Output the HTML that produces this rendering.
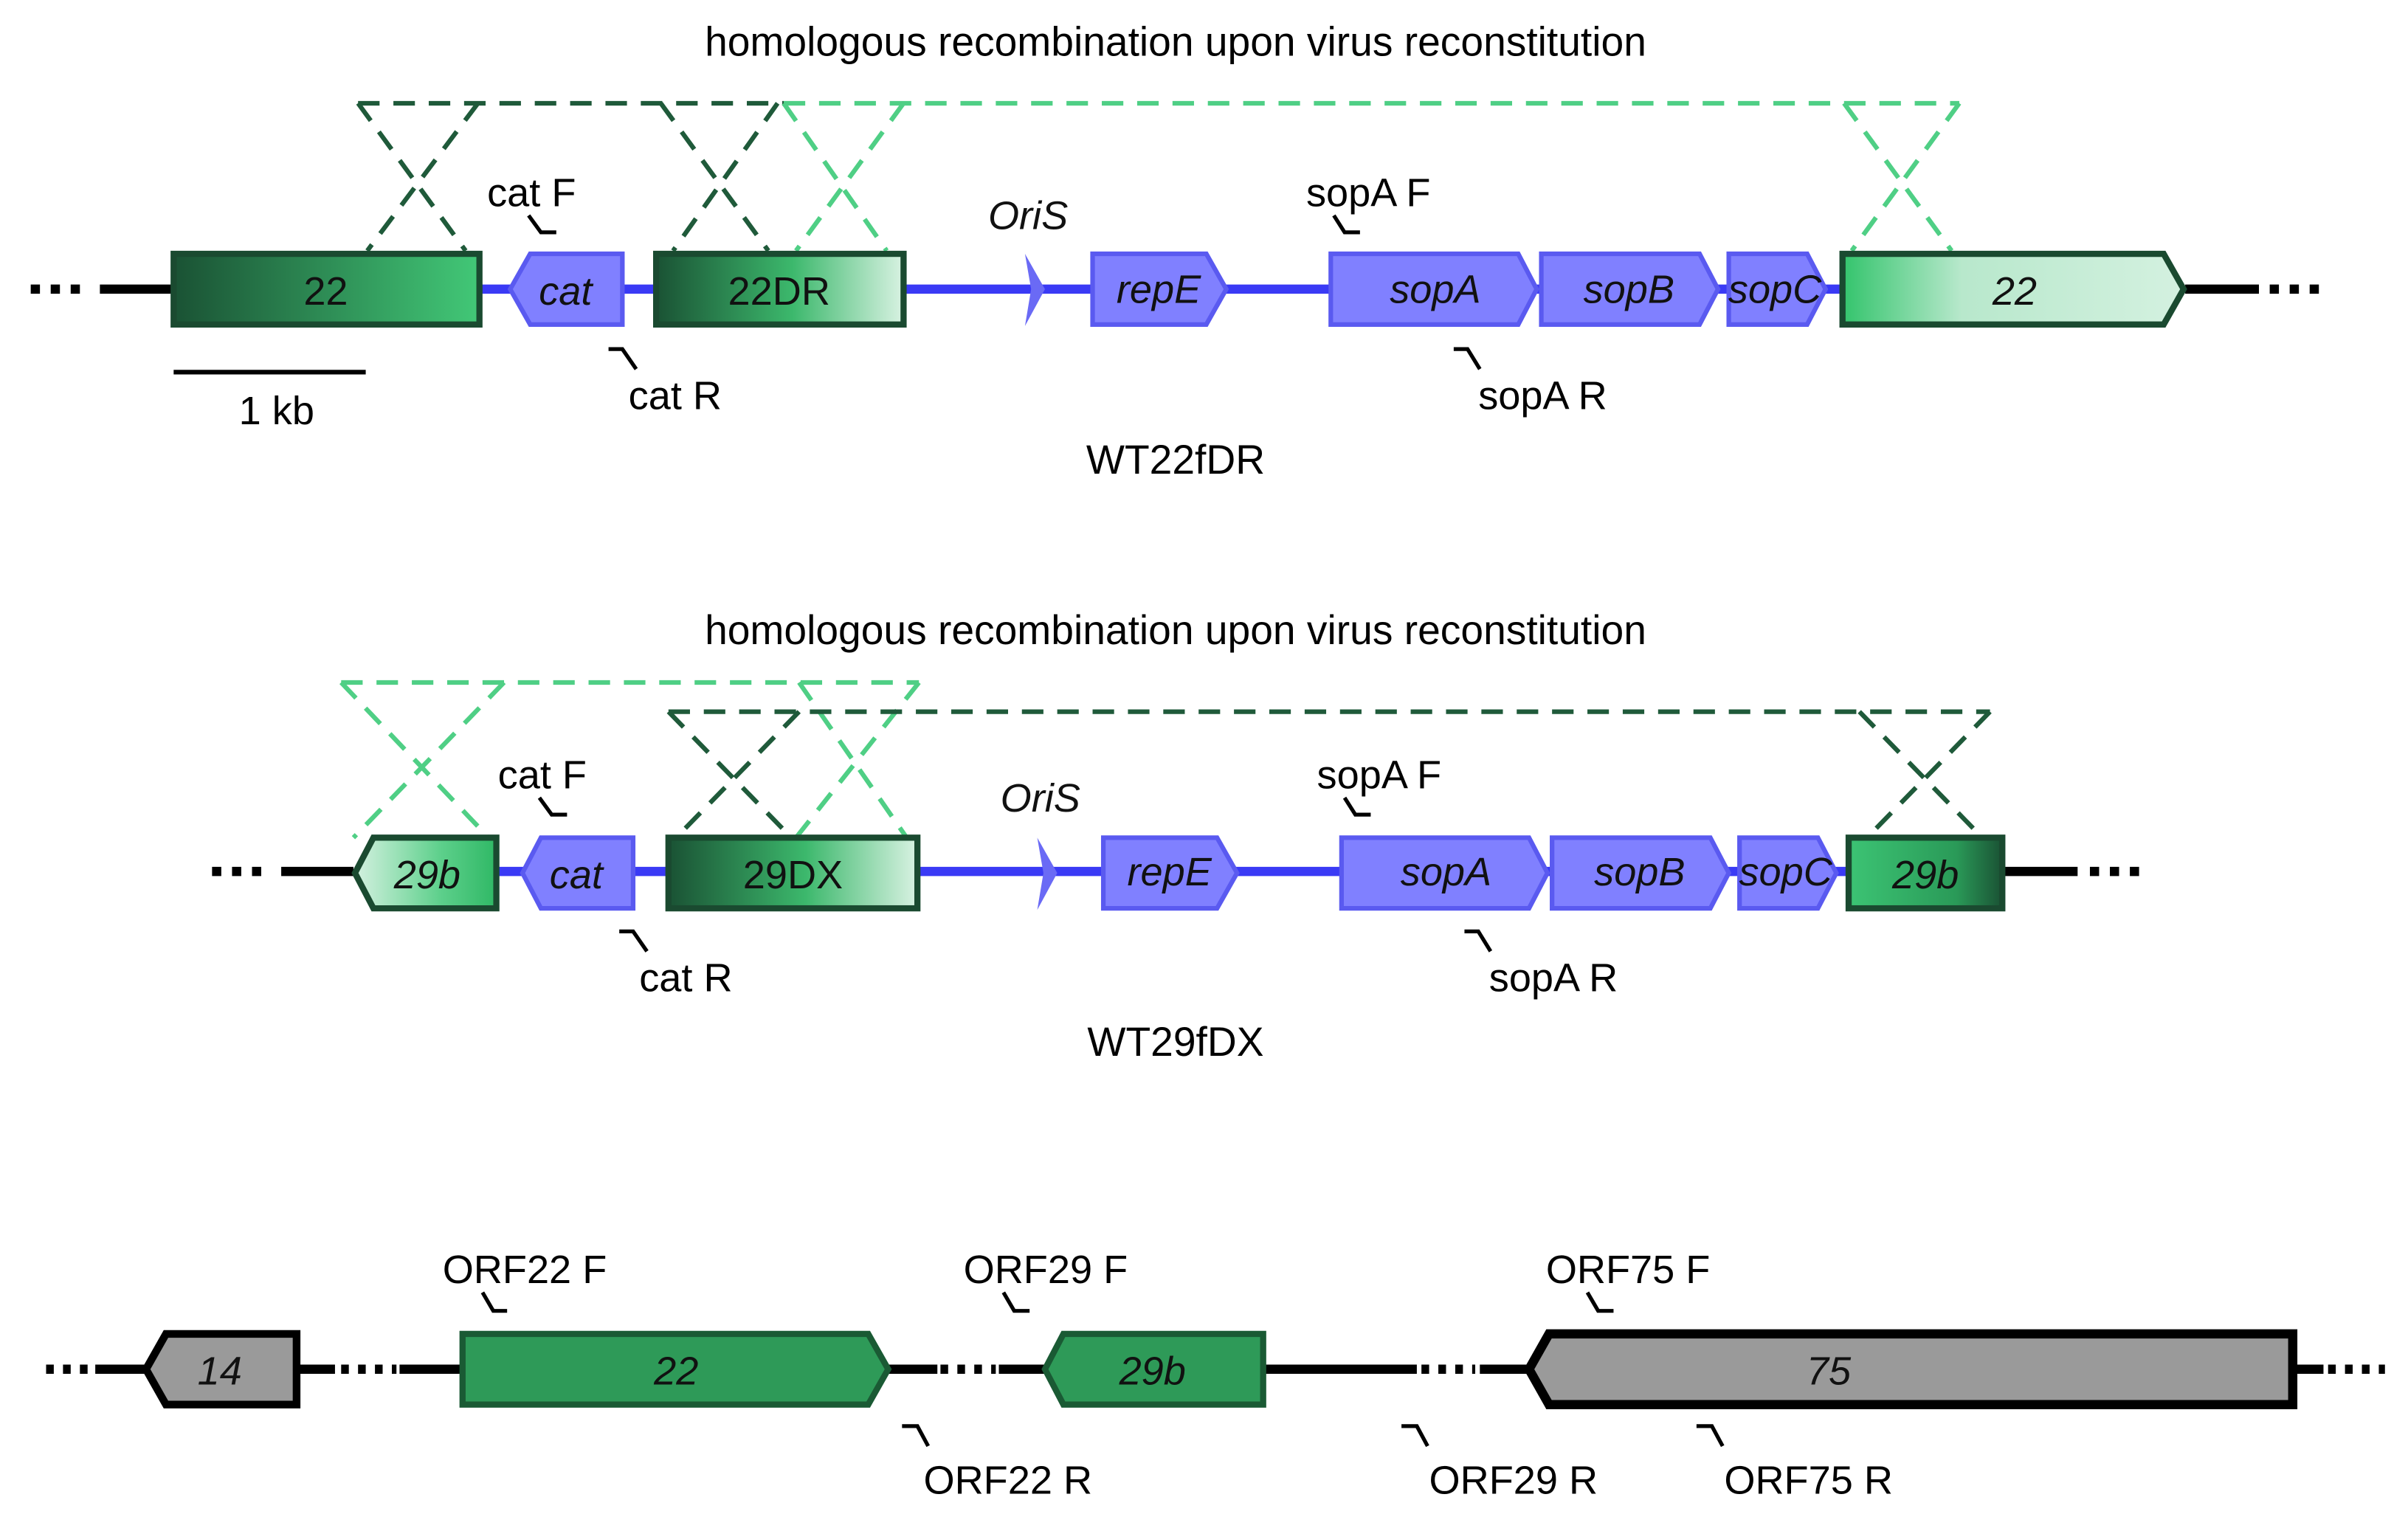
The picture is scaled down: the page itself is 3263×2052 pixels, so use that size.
<!DOCTYPE html>
<html><head><meta charset="utf-8"><style>
html,body{margin:0;padding:0;background:#fff;}
svg{display:block;}
text{font-family:"Liberation Sans",sans-serif;}
</style></head><body>
<svg width="3263" height="2052" viewBox="0 0 1567 985" xmlns="http://www.w3.org/2000/svg">
<defs>
<linearGradient id="g1" x1="0" x2="1" y1="0" y2="0"><stop offset="0" stop-color="#1a5234"/><stop offset="1" stop-color="#42c877"/></linearGradient>
<linearGradient id="g2" x1="0" x2="1" y1="0" y2="0"><stop offset="0" stop-color="#1a5234"/><stop offset="0.55" stop-color="#3cb86c"/><stop offset="1" stop-color="#d8f2e2"/></linearGradient>
<linearGradient id="g3" x1="0" x2="1" y1="0" y2="0"><stop offset="0" stop-color="#33c46c"/><stop offset="0.35" stop-color="#b8e8cc"/><stop offset="1" stop-color="#d4f1e0"/></linearGradient>
<linearGradient id="g4" x1="0" x2="1" y1="0" y2="0"><stop offset="0" stop-color="#d4f1e0"/><stop offset="0.6" stop-color="#5ed08c"/><stop offset="1" stop-color="#2fb865"/></linearGradient>
<linearGradient id="g5" x1="0" x2="1" y1="0" y2="0"><stop offset="0" stop-color="#3cc474"/><stop offset="0.7" stop-color="#2a9a58"/><stop offset="1" stop-color="#1a5234"/></linearGradient>
</defs>
<g font-size="26.5" fill="#000">
<text x="765" y="36" text-anchor="middle">homologous recombination upon virus reconstitution</text>
<text x="765" y="419" text-anchor="middle">homologous recombination upon virus reconstitution</text>
<text x="765" y="308" text-anchor="middle">WT22fDR</text>
<text x="765" y="687" text-anchor="middle">WT29fDX</text>
</g>

<!-- ROW 1 -->
<g stroke-width="3" fill="none" stroke-dasharray="14,9">
<path d="M233 67 H510 M233 67 L303 163 M311 67 L239 163 M430 67 L500 163 M506 67 L438 163" stroke="#1f5a3a"/>
<path d="M510 67 H1275 M510 67 L577 163 M588 67 L518 163 M1200 67 L1270 163 M1275 67 L1205 163" stroke="#4fcf85"/>
</g>
<line x1="20" y1="188" x2="58" y2="188" stroke="#000" stroke-width="6" stroke-dasharray="6,7"/>
<line x1="65" y1="188" x2="113" y2="188" stroke="#000" stroke-width="6"/>
<line x1="312" y1="188" x2="1198" y2="188" stroke="#3a3af5" stroke-width="6"/>
<line x1="1422" y1="188" x2="1470" y2="188" stroke="#000" stroke-width="6"/>
<line x1="1477" y1="188" x2="1515" y2="188" stroke="#000" stroke-width="6" stroke-dasharray="6,7"/>
<rect x="113" y="165" width="199" height="46" fill="url(#g1)" stroke="#1a4a30" stroke-width="4"/>
<polygon points="332,188 345,165 405,165 405,211 345,211" fill="#8080ff" stroke="#5a5af0" stroke-width="3"/>
<rect x="427" y="165" width="161" height="46" fill="url(#g2)" stroke="#1a4a30" stroke-width="4"/>
<polygon points="667,165 680,188 667,212 671,188" fill="#6a6af5"/>
<polygon points="711,165 785,165 798,188 785,211 711,211" fill="#8080ff" stroke="#5a5af0" stroke-width="3"/>
<polygon points="866,165 988,165 1000,188 988,211 866,211" fill="#8080ff" stroke="#5a5af0" stroke-width="3"/>
<polygon points="1003,165 1106,165 1118,188 1106,211 1003,211" fill="#8080ff" stroke="#5a5af0" stroke-width="3"/>
<polygon points="1125,165 1176,165 1188,188 1176,211 1125,211" fill="#8080ff" stroke="#5a5af0" stroke-width="3"/>
<polygon points="1199,165 1408,165 1421,188 1408,211 1199,211" fill="url(#g3)" stroke="#1a4a30" stroke-width="4"/>
<g font-size="26" font-style="italic" text-anchor="middle" fill="#111">
<text x="212" y="198" font-style="normal">22</text>
<text x="368" y="198">cat</text>
<text x="507" y="198" font-style="normal">22DR</text>
<text x="754" y="197">repE</text>
<text x="934" y="197">sopA</text>
<text x="1060" y="197">sopB</text>
<text x="1155" y="197">sopC</text>
<text x="1311" y="198">22</text>
<text x="669" y="149">OriS</text>
</g>
<line x1="113" y1="242" x2="238" y2="242" stroke="#000" stroke-width="3"/>
<text x="180" y="276" font-size="26" text-anchor="middle">1 kb</text>
<g font-size="26">
<text x="317" y="134">cat F</text>
<text x="409" y="266">cat R</text>
<text x="850" y="134">sopA F</text>
<text x="962" y="266">sopA R</text>
</g>
<g stroke="#000" stroke-width="2.5" fill="none">
<path d="M344 140 L352 151 H362"/>
<path d="M396 227 H405 L414 240"/>
<path d="M868 140 L875 151 H885"/>
<path d="M946 227 H955 L963 240"/>
</g>

<!-- ROW 2 -->
<g stroke-width="3" fill="none" stroke-dasharray="14,9">
<path d="M222 444 H598 M222 444 L318 545 M328 444 L230 545 M520 444 L590 545 M598 444 L518 545" stroke="#4fcf85"/>
<path d="M435 463 H1295 M435 463 L515 545 M520 463 L440 545 M1210 463 L1290 545 M1295 463 L1215 545" stroke="#1f5a3a"/>
</g>
<line x1="138" y1="567" x2="176" y2="567" stroke="#000" stroke-width="6" stroke-dasharray="6,7"/>
<line x1="183" y1="567" x2="230" y2="567" stroke="#000" stroke-width="6"/>
<line x1="323" y1="567" x2="1203" y2="567" stroke="#3a3af5" stroke-width="6"/>
<line x1="1303" y1="567" x2="1352" y2="567" stroke="#000" stroke-width="6"/>
<line x1="1360" y1="567" x2="1398" y2="567" stroke="#000" stroke-width="6" stroke-dasharray="6,7"/>
<polygon points="231,568 243,545 323,545 323,591 243,591" fill="url(#g4)" stroke="#1a4a30" stroke-width="4"/>
<polygon points="340,568 352,545 412,545 412,591 352,591" fill="#8080ff" stroke="#5a5af0" stroke-width="3"/>
<rect x="435" y="545" width="162" height="46" fill="url(#g2)" stroke="#1a4a30" stroke-width="4"/>
<polygon points="675,545 688,568 675,592 679,568" fill="#6a6af5"/>
<polygon points="718,545 792,545 805,568 792,591 718,591" fill="#8080ff" stroke="#5a5af0" stroke-width="3"/>
<polygon points="873,545 995,545 1007,568 995,591 873,591" fill="#8080ff" stroke="#5a5af0" stroke-width="3"/>
<polygon points="1010,545 1113,545 1125,568 1113,591 1010,591" fill="#8080ff" stroke="#5a5af0" stroke-width="3"/>
<polygon points="1132,545 1183,545 1195,568 1183,591 1132,591" fill="#8080ff" stroke="#5a5af0" stroke-width="3"/>
<rect x="1203" y="545" width="100" height="46" fill="url(#g5)" stroke="#1a4a30" stroke-width="4"/>
<g font-size="26" font-style="italic" text-anchor="middle" fill="#111">
<text x="278" y="578">29b</text>
<text x="375" y="578">cat</text>
<text x="516" y="578" font-style="normal">29DX</text>
<text x="761" y="576">repE</text>
<text x="941" y="576">sopA</text>
<text x="1067" y="576">sopB</text>
<text x="1162" y="576">sopC</text>
<text x="1253" y="578">29b</text>
<text x="677" y="528">OriS</text>
</g>
<g font-size="26">
<text x="324" y="513">cat F</text>
<text x="416" y="645">cat R</text>
<text x="857" y="513">sopA F</text>
<text x="969" y="645">sopA R</text>
</g>
<g stroke="#000" stroke-width="2.5" fill="none">
<path d="M351 519 L359 530 H369"/>
<path d="M403 606 H412 L421 619"/>
<path d="M875 519 L882 530 H892"/>
<path d="M953 606 H962 L970 619"/>
</g>

<!-- ROW 3 -->
<g stroke="#000" stroke-width="6">
<line x1="30" y1="891" x2="62" y2="891" stroke-dasharray="5,6"/>
<line x1="62" y1="891" x2="95" y2="891"/>
<line x1="193" y1="891" x2="218" y2="891"/>
<line x1="222" y1="891" x2="258" y2="891" stroke-dasharray="5,6"/>
<line x1="260" y1="891" x2="300" y2="891"/>
<line x1="578" y1="891" x2="610" y2="891"/>
<line x1="612" y1="891" x2="648" y2="891" stroke-dasharray="5,6"/>
<line x1="650" y1="891" x2="680" y2="891"/>
<line x1="822" y1="891" x2="922" y2="891"/>
<line x1="925" y1="891" x2="960" y2="891" stroke-dasharray="5,6"/>
<line x1="963" y1="891" x2="995" y2="891"/>
<line x1="1492" y1="891" x2="1512" y2="891"/>
<line x1="1515" y1="891" x2="1552" y2="891" stroke-dasharray="5,6"/>
</g>
<polygon points="95,891 108,868 193,868 193,914 108,914" fill="#9a9a9a" stroke="#000" stroke-width="5"/>
<polygon points="301,868 565,868 578,891 565,914 301,914" fill="#2e9a58" stroke="#1a5a34" stroke-width="4"/>
<polygon points="680,891 692,868 822,868 822,914 692,914" fill="#2e9a58" stroke="#1a5a34" stroke-width="4"/>
<polygon points="995,891 1008,868 1492,868 1492,914 1008,914" fill="#9a9a9a" stroke="#000" stroke-width="6"/>
<g font-size="26" font-style="italic" text-anchor="middle" fill="#111">
<text x="143" y="901">14</text>
<text x="440" y="901">22</text>
<text x="750" y="901">29b</text>
<text x="1190" y="901">75</text>
</g>
<g font-size="26">
<text x="288" y="835">ORF22 F</text>
<text x="601" y="972">ORF22 R</text>
<text x="627" y="835">ORF29 F</text>
<text x="930" y="972">ORF29 R</text>
<text x="1006" y="835">ORF75 F</text>
<text x="1122" y="972">ORF75 R</text>
</g>
<g stroke="#000" stroke-width="2.5" fill="none">
<path d="M314 841 L321 853 H330"/>
<path d="M587 928 H597 L604 941"/>
<path d="M653 841 L660 853 H670"/>
<path d="M912 928 H922 L929 941"/>
<path d="M1033 841 L1040 853 H1050"/>
<path d="M1104 928 H1114 L1121 941"/>
</g>
</svg>
</body></html>
